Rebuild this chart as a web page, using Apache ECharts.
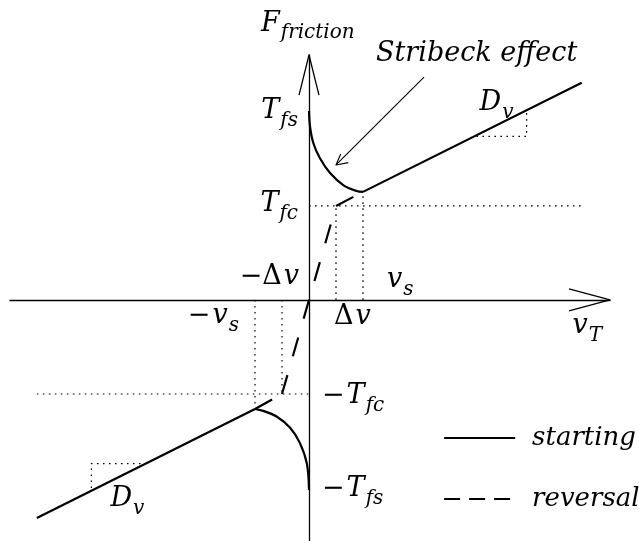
<!DOCTYPE html>
<html>
<head>
<meta charset="utf-8">
<script src="https://cdn.jsdelivr.net/npm/echarts@6/dist/echarts.min.js"></script>
<style>
  html, body { margin: 0; padding: 0; background: #fff; }
  #chart { width: 639px; height: 541px; }
</style>
</head>
<body>
<div id="chart"></div>
<script>
// Friction force vs. relative velocity (velocity in units of v_s, force in units of T_fc)
const FONT = '"DejaVu Serif", serif';

const vS = 1.0, dV = 0.5, Tfc = 1.0, Tfs = 2.0;

// starting branch: Stribeck drop, then viscous slope D_v
const stribeckUp = [[0, 2.01], [0.02, 1.84], [0.08, 1.67], [0.2, 1.51], [0.39, 1.35], [0.64, 1.22], [0.88, 1.16], [1.0, 1.15]];
const viscousUp = [[1.0, 1.15], [5.05, 2.31]];
const stribeckDown = [[0, -2.02], [-0.04, -1.74], [-0.17, -1.52], [-0.35, -1.36], [-0.6, -1.24], [-0.85, -1.18], [-1.0, -1.16]];
const viscousDown = [[-1.0, -1.16], [-5.04, -2.32]];

// reversal branch
const reversalLow = [[-1.0, -1.16], [-0.5, -1.0]];
const reversalSteep = [[-0.5, -1.0], [0.5, 1.0]];
const reversalHigh = [[0.5, 1.0], [1.0, 1.15]];

// dotted guides
const guideLines = [
  [[0, Tfc], [5.05, Tfc]],
  [[-5.04, -Tfc], [0, -Tfc]],
  [[dV, 0], [dV, Tfc]],
  [[vS, 0], [vS, 1.15]],
  [[-vS, 0], [-vS, -1.16]],
  [[-dV, 0], [-dV, -Tfc]],
  [[3.1, 1.74], [4.03, 1.74], [4.03, 2.0]],
  [[-4.03, -2.0], [-4.03, -1.74], [-3.1, -1.74]]
];

// "Stribeck effect" pointer
const pointer = [[2.13, 2.37], [0.5, 1.436]];
const pointerHead = [[0.587, 1.553], [0.5, 1.436], [0.728, 1.461]];

// axis extents and open arrowheads
const xRange = [-5.537, 5.574];
const yRange = [-2.564, 2.606];
const xArrowHead = [[4.815, 0.117], [5.574, 0], [4.815, -0.117]];
const yArrowHead = [[-0.185, 2.18], [0, 2.606], [0.185, 2.18]];

// annotation texts and the points they belong to
const labelTexts = [
  '{m|F}{s|friction}',
  '{m|Stribeck effect}',
  '{m|T}{s|fs}',
  '{m|T}{s|fc}',
  '{u|−Δ}{m|v}',
  '{m|v}{s|s}',
  '{u|−}{m|v}{s|s}',
  '{u|Δ}{m|v}',
  '{m|v}{s|T}',
  '{u|−}{m|T}{s|fc}',
  '{u|−}{m|T}{s|fs}',
  '{m|D}{s|v}',
  '{m|D}{s|v}'
];
const labelAnchors = [
  [0, yRange[1]],
  pointer[0],
  [0, Tfs],
  [0, Tfc],
  [0, 0],
  [vS, 0],
  [-vS, 0],
  [dV, 0],
  [xRange[1], 0],
  [0, -Tfc],
  [0, -Tfs],
  [4.03, 1.74],
  [-4.03, -1.74]
];
// text placement relative to each anchor, px
const labelPlacement = [
  { align: 'left', offset: [-48, -30] },
  { align: 'left', offset: [-48, -22] },
  { align: 'right', offset: [-11, 1] },
  { align: 'right', offset: [-11, 0] },
  { align: 'right', offset: [-10, -21] },
  { align: 'left', offset: [24, -18] },
  { align: 'right', offset: [-16, 18] },
  { align: 'left', offset: [-2, 19] },
  { align: 'right', offset: [-8, 28] },
  { align: 'left', offset: [13, 4] },
  { align: 'left', offset: [13, 3] },
  { align: 'left', offset: [-47, -32] },
  { align: 'left', offset: [19, 37] }
];

const rich = {
  m: { fontFamily: FONT, fontStyle: 'italic', fontSize: 27, lineHeight: 30, verticalAlign: 'top', color: '#000' },
  s: { fontFamily: FONT, fontStyle: 'italic', fontSize: 20, lineHeight: 20, padding: [13, 0, 0, 1], verticalAlign: 'top', color: '#000' },
  u: { fontFamily: FONT, fontSize: 27, lineHeight: 30, verticalAlign: 'top', color: '#000', padding: [0, 2, 0, 0] }
};

function line(name, data, width, type, z, smooth) {
  return {
    type: 'line', name: name, data: data, symbol: 'none', silent: true, clip: false,
    smooth: smooth || false,
    itemStyle: { color: '#000' },
    lineStyle: { color: '#000', width: width, type: type || 'solid', cap: 'butt', join: 'round' },
    z: z || 3
  };
}

const series = [];
series.push(line('starting', stribeckUp, 2.2, 'solid', 5, 0.35));
series.push(line('starting', viscousUp, 2.2, 'solid', 5));
series.push(line('starting', stribeckDown, 2.2, 'solid', 5, 0.35));
series.push(line('starting', viscousDown, 2.2, 'solid', 5));
series.push(line('reversal', reversalLow, 2.2, [19.6, 19.6], 5));
series.push(line('reversal', reversalSteep, 2.2, [19.6, 19.6], 5));
series.push(line('reversal', reversalHigh, 2.2, [19.6, 19.6], 5));
guideLines.forEach(function (g) {
  series.push(line('guide', g, 1.2, [1.6, 4.4], 2));
});
series.push(line('pointer', pointer, 1.1, 'solid', 4));
series.push(line('pointer', pointerHead, 1.1, 'solid', 4));
series.push(line('axis', xArrowHead, 1.3, 'solid', 4));
series.push(line('axis', yArrowHead, 1.3, 'solid', 4));

series.push({
  type: 'scatter', name: 'labels', silent: true, clip: false,
  symbolSize: 1, itemStyle: { color: 'transparent', opacity: 1 },
  data: labelAnchors.map(function (p, i) {
    return {
      value: p,
      label: {
        show: true, position: 'inside', color: '#000', opacity: 1,
        align: labelPlacement[i].align, verticalAlign: 'middle',
        offset: labelPlacement[i].offset,
        formatter: labelTexts[i], rich: rich
      }
    };
  }),
  z: 6
});

const chart = echarts.init(document.getElementById('chart'), null, { renderer: 'canvas' });
chart.setOption({
  animation: false,
  backgroundColor: '#fff',
  grid: { left: 10, right: 29, top: 55, bottom: 0, containLabel: false },
  xAxis: {
    type: 'value', min: xRange[0], max: xRange[1],
    axisLine: { show: true, onZero: true, lineStyle: { color: '#000', width: 1.3 } },
    axisTick: { show: false }, axisLabel: { show: false }, splitLine: { show: false }
  },
  yAxis: {
    type: 'value', min: yRange[0], max: yRange[1],
    axisLine: { show: true, onZero: true, lineStyle: { color: '#000', width: 1.3 } },
    axisTick: { show: false }, axisLabel: { show: false }, splitLine: { show: false }
  },
  legend: {
    orient: 'vertical', left: 438, top: 418,
    itemWidth: 71, itemHeight: 30, itemGap: 31,
    selectedMode: false,
    itemStyle: { opacity: 0 },
    data: [
      { name: 'starting', lineStyle: { type: 'solid', width: 2.2, color: '#000' } },
      { name: 'reversal', lineStyle: { type: [16, 9], width: 2.2, color: '#000' } }
    ],
    textStyle: { fontFamily: FONT, fontStyle: 'italic', fontSize: 26, lineHeight: 30, color: '#000', padding: [0, 0, 0, 12] }
  },
  series: series
});
</script>
</body>
</html>
